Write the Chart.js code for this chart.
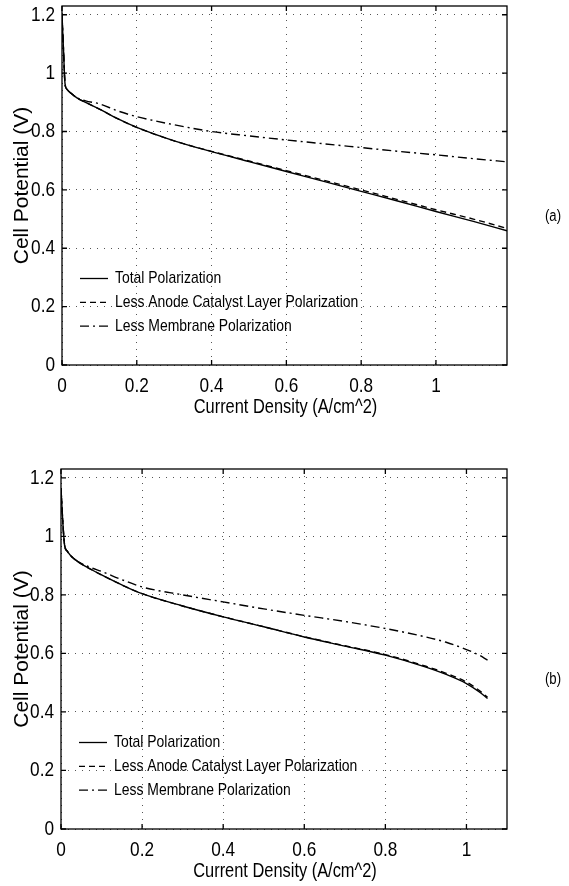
<!DOCTYPE html>
<html>
<head>
<meta charset="utf-8">
<script src="https://cdn.jsdelivr.net/npm/chart.js@4.4.0/dist/chart.umd.min.js"></script>
<style>
  html, body { margin: 0; padding: 0; background: #fff; }
  body { width: 569px; height: 886px; position: relative; overflow: hidden; }
  .wrap { position: absolute; left: 0; width: 569px; }
  #wrapA { top: 0; height: 422px; }
  #wrapB { top: 422px; height: 464px; }
  .tag { position: absolute; left: 545px; font: 16px "Liberation Sans", Arial, sans-serif; line-height: 20px; color: #000; transform: scaleX(0.82); transform-origin: left center; }
</style>
</head>
<body>
<div class="wrap" id="wrapA"><canvas id="chartA" width="569" height="422"></canvas></div>
<div class="wrap" id="wrapB"><canvas id="chartB" width="569" height="464"></canvas></div>
<div class="tag" style="top:206px">(a)</div>
<div class="tag" style="top:669px">(b)</div>
<script>
// ---- dados ----
const seriesNames = ['Total Polarization', 'Less Anode Catalyst Layer Polarization', 'Less Membrane Polarization'];
const yTicks = [0, 0.2, 0.4, 0.6, 0.8, 1, 1.2];
const yTickLabels = ['0', '0.2', '0.4', '0.6', '0.8', '1', '1.2'];
const xTicks = [0, 0.2, 0.4, 0.6, 0.8, 1];
const xTickLabels = ['0', '0.2', '0.4', '0.6', '0.8', '1'];

// (a)
const xA = [0, 0.004, 0.008, 0.013, 0.025, 0.04, 0.063, 0.1, 0.15, 0.2, 0.3, 0.4, 0.5, 0.6, 0.7, 0.8, 0.9, 1.0, 1.1, 1.19];
const totalA = [1.2, 1.08, 0.965, 0.945, 0.93, 0.915, 0.9, 0.877, 0.843, 0.814, 0.768, 0.731, 0.697, 0.663, 0.629, 0.595, 0.561, 0.526, 0.492, 0.46];
const anodeA = [1.2, 1.08, 0.965, 0.945, 0.93, 0.915, 0.9, 0.877, 0.843, 0.814, 0.768, 0.732, 0.699, 0.666, 0.633, 0.6, 0.566, 0.532, 0.5, 0.468];
const membraneA = [1.2, 1.08, 0.965, 0.945, 0.93, 0.916, 0.905, 0.895, 0.87, 0.851, 0.823, 0.8, 0.785, 0.771, 0.758, 0.745, 0.732, 0.72, 0.707, 0.696];

// (b)
const xB = [0, 0.004, 0.009, 0.015, 0.023, 0.043, 0.07, 0.1, 0.15, 0.2, 0.3, 0.4, 0.5, 0.6, 0.7, 0.8, 0.9, 0.95, 1.0, 1.03, 1.052];
const totalB = [1.165, 1.06, 0.968, 0.95, 0.935, 0.912, 0.89, 0.868, 0.834, 0.804, 0.762, 0.725, 0.691, 0.656, 0.625, 0.594, 0.553, 0.528, 0.497, 0.47, 0.446];
const anodeB = [1.165, 1.06, 0.968, 0.95, 0.935, 0.912, 0.89, 0.868, 0.834, 0.804, 0.762, 0.725, 0.691, 0.657, 0.626, 0.596, 0.556, 0.532, 0.502, 0.475, 0.45];
const membraneB = [1.165, 1.06, 0.968, 0.95, 0.935, 0.913, 0.895, 0.88, 0.852, 0.827, 0.8, 0.776, 0.752, 0.73, 0.709, 0.685, 0.656, 0.638, 0.613, 0.595, 0.577];

// ---- estilo ----
const FONT = '"Liberation Sans", Arial, sans-serif';
const SQUEEZE = 0.82; // fonte estreita tipo Helvetica Narrow do MATLAB
const dashes = [[], [6, 4], [9, 4, 2, 4]];

const narrowText = (ctx, text, x, y, align, size) => {
  ctx.save();
  ctx.translate(x, y);
  ctx.scale(SQUEEZE, 1);
  ctx.font = size + 'px ' + FONT;
  ctx.fillStyle = '#000';
  ctx.textAlign = align;
  ctx.textBaseline = 'middle';
  ctx.fillText(text, 0, 0);
  ctx.restore();
};

// rótulos dos ticks + título do eixo x
const labelsPlugin = {
  id: 'narrowLabels',
  afterDraw(chart) {
    const { ctx, chartArea: a, scales: { x, y } } = chart;
    x.ticks.forEach((t, i) => narrowText(ctx, xTickLabels[i], x.getPixelForValue(t.value), a.bottom + 21, 'center', 21));
    y.ticks.forEach((t, i) => narrowText(ctx, yTickLabels[i], a.left - 7, y.getPixelForValue(t.value), 'right', 21));
    narrowText(ctx, 'Current Density (A/cm^2)', (a.left + a.right) / 2 + 1, a.bottom + 42, 'center', 20);
  }
};

// legenda estilo MATLAB, dentro da área, canto inferior esquerdo
const legendPlugin = {
  id: 'matLegend',
  afterDatasetsDraw(chart) {
    const { ctx, chartArea: a } = chart;
    chart.data.datasets.forEach((ds, i) => {
      const y = a.bottom - 86.5 + i * 23.8;
      ctx.save();
      ctx.strokeStyle = '#000';
      ctx.lineWidth = 1.3;
      ctx.setLineDash(ds.borderDash || []);
      ctx.beginPath();
      ctx.moveTo(a.left + 18, y);
      ctx.lineTo(a.left + 46, y);
      ctx.stroke();
      ctx.restore();
      narrowText(ctx, ds.label, a.left + 53, y, 'left', 17);
    });
  }
};

// caixa + ticks para dentro
const framePlugin = {
  id: 'frame',
  afterDraw(chart) {
    const { ctx, chartArea: a, scales: { x, y } } = chart;
    ctx.save();
    ctx.strokeStyle = '#000';
    ctx.lineWidth = 1.3;
    ctx.strokeRect(a.left, a.top, a.right - a.left, a.bottom - a.top);
    ctx.beginPath();
    x.ticks.forEach(t => {
      const px = x.getPixelForValue(t.value);
      ctx.moveTo(px, a.bottom); ctx.lineTo(px, a.bottom - 5);
      ctx.moveTo(px, a.top); ctx.lineTo(px, a.top + 5);
    });
    y.ticks.forEach(t => {
      const py = y.getPixelForValue(t.value);
      ctx.moveTo(a.left, py); ctx.lineTo(a.left + 5, py);
      ctx.moveTo(a.right, py); ctx.lineTo(a.right - 5, py);
    });
    ctx.stroke();
    ctx.restore();
  }
};

const makeChart = (id, xs, ys, xMax, yLeftW, topPad) => {
  const datasets = ys.map((arr, i) => ({
    label: seriesNames[i],
    data: xs.map((xv, k) => ({ x: xv, y: arr[k] })),
    borderColor: '#000',
    borderWidth: 1.4,
    borderDash: dashes[i],
    pointRadius: 0,
    fill: false,
    cubicInterpolationMode: 'monotone'
  }));

  return new Chart(document.getElementById(id), {
    type: 'line',
    data: { datasets },
    options: {
      responsive: false,
      animation: false,
      layout: { padding: { left: 0, top: topPad, right: 62, bottom: 0 } },
      plugins: { legend: { display: false }, tooltip: { enabled: false } },
      scales: {
        x: {
          type: 'linear', min: 0, max: xMax,
          afterBuildTicks: s => { s.ticks = xTicks.map(v => ({ value: v })); },
          afterFit: s => { s.height = 57; },
          grid: { color: '#555', lineWidth: 1, drawTicks: false },
          border: { display: false, dash: [1, 6] },
          ticks: { display: false }
        },
        y: {
          type: 'linear', min: 0, max: 1.23,
          afterBuildTicks: s => { s.ticks = yTicks.map(v => ({ value: v })); },
          afterFit: s => { s.width = yLeftW; },
          grid: { color: '#555', lineWidth: 1, drawTicks: false },
          border: { display: false, dash: [1, 6] },
          ticks: { display: false },
          title: { display: true, text: 'Cell Potential (V)', color: '#000', font: { family: FONT, size: 21 }, padding: { top: 10, bottom: 0 } }
        }
      }
    },
    plugins: [legendPlugin, framePlugin, labelsPlugin]
  });
};

makeChart('chartA', xA, [totalA, anodeA, membraneA], 1.19, 62, 6);
makeChart('chartB', xB, [totalB, anodeB, membraneB], 1.1, 61, 47);
</script>
</body>
</html>
